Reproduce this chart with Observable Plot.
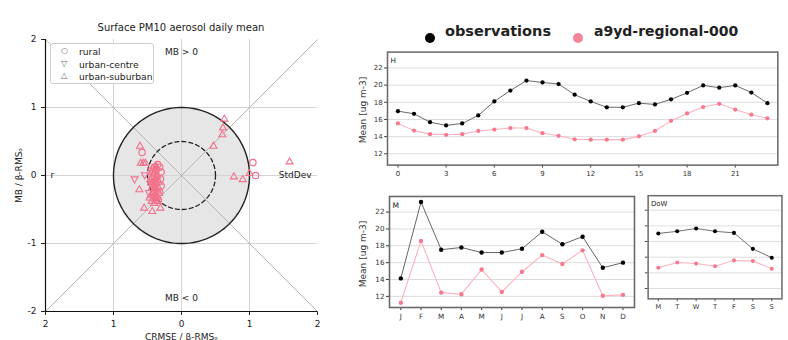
<!DOCTYPE html>
<html><head><meta charset="utf-8">
<script src="https://cdn.jsdelivr.net/npm/d3@7"></script>
<script src="https://cdn.jsdelivr.net/npm/@observablehq/plot@0.6"></script>
<style>
html,body{margin:0;padding:0;background:#fff;overflow:hidden;}
#chart{position:relative;width:788px;height:340px;overflow:hidden;font-family:"DejaVu Sans",sans-serif;color:#222;}
.abs{position:absolute;white-space:nowrap;}
.abs svg{overflow:visible;}
.rot{position:absolute;white-space:nowrap;transform:translate(-50%,-50%) rotate(-90deg);}
</style></head><body><div id="chart"></div>
<script>
// ---- Target diagram: station scores by area type (CRMSE, MB) ----
const ruralX = [-0.58, -0.35, 1.05, 1.09, -0.32, -0.30, -0.31, -0.30, -0.32, -0.40, -0.34, -0.36];
const ruralY = [0.34, 0.16, 0.19, 0.00, 0.12, 0.05, -0.05, -0.15, -0.25, 0.12, -0.36, -0.02];
const centreX = [-0.69, -0.54, -0.45, -0.42, -0.40, -0.48];
const centreY = [-0.05, 0.01, 0.08, -0.15, -0.32, -0.25];
const suburbanX = [-0.61, -0.60, -0.56, -0.53, -0.62, -0.55, -0.43, -0.31, 0.63, 0.61, 0.60, 0.47, 1.59, 0.77, 0.90, 1.00,
  -0.42, -0.38, -0.44, -0.40, -0.36, -0.43, -0.39, -0.35, -0.41, -0.45, -0.37, -0.42, -0.39, -0.34, -0.44, -0.40,
  -0.36, -0.42, -0.38, -0.33, -0.45, -0.40, -0.36, -0.42, -0.38, -0.44, -0.35, -0.40, -0.47, -0.37, -0.46, -0.33];
const suburbanY = [0.43, 0.18, 0.18, 0.18, -0.21, -0.48, -0.53, -0.48, 0.83, 0.70, 0.60, 0.43, 0.20, -0.02, -0.06, 0.03,
  0.10, 0.08, 0.04, 0.02, 0.00, -0.03, -0.05, -0.07, -0.09, -0.11, -0.12, -0.14, -0.17, -0.18, -0.19, -0.21,
  -0.23, -0.25, -0.27, -0.26, -0.29, -0.30, -0.32, -0.34, -0.36, -0.38, -0.38, -0.41, -0.33, 0.13, -0.06, -0.10];
const areaTypes = ["rural", "urban-centre", "urban-suburban"];

// ---- Mean cycles (ug m-3): hour of day, month, day of week ----
const hourTicks = [0, 3, 6, 9, 12, 15, 18, 21];
const hours = [0,1,2,3,4,5,6,7,8,9,10,11,12,13,14,15,16,17,18,19,20,21,22,23];
const hourObs = [16.97,16.66,15.68,15.31,15.53,16.47,18.10,19.37,20.53,20.31,20.13,18.88,18.10,17.42,17.42,17.90,17.75,18.35,19.10,19.97,19.70,19.97,19.14,17.90];
const hourMod = [15.53,14.70,14.29,14.21,14.29,14.66,14.82,15.00,15.00,14.40,14.10,13.69,13.65,13.65,13.65,14.03,14.66,15.84,16.70,17.45,17.82,17.15,16.55,16.13];
const months = ["J","F","M","A","M","J","J","A","S","O","N","D"];
const monthObs = [14.13,23.19,17.54,17.80,17.20,17.20,17.65,19.67,18.18,19.08,15.40,16.00];
const monthMod = [11.25,18.58,12.45,12.26,15.18,12.52,14.92,16.90,15.85,17.46,12.07,12.18];
const days = ["M","T","W","T","F","S","S"];
const dowObs = [19.03,19.30,19.67,19.30,19.10,17.06,15.93];
const dowMod = [14.65,15.33,15.18,14.84,15.59,15.52,14.51];
const meanTicks = [12, 14, 16, 18, 20, 22];
const seriesNames = ["observations", "a9yd-regional-000"];
const meanLabel = "Mean [ug m-3]";

const pink = "#f4718b";
const chart = document.getElementById("chart");

function place(node, left, top) {
  const d = document.createElement("div");
  d.className = "abs";
  d.style.left = left + "px";
  d.style.top = top + "px";
  d.appendChild(node);
  chart.appendChild(d);
  return d;
}
function label(html, left, top, css, cls) {
  const d = document.createElement("div");
  d.className = cls || "abs";
  d.style.left = left + "px";
  d.style.top = top + "px";
  d.style.cssText += css || "";
  d.innerHTML = html;
  chart.appendChild(d);
  return d;
}

// unit and half-unit reference circles
const ring = (rad) => d3.range(0, 361, 2).map(a => ({x: rad * Math.cos(a * Math.PI / 180), y: rad * Math.sin(a * Math.PI / 180)}));
const zip = (xs, ys) => xs.map((x, i) => ({x, y: ys[i]}));
const diagonals = [{x1: -2, y1: 2, x2: 2, y2: -2}, {x1: -2, y1: -2, x2: 2, y2: 2}];

const target = Plot.plot({
  width: 330, height: 340,
  marginLeft: 45, marginRight: 13, marginTop: 39, marginBottom: 29,
  style: {fontFamily: "DejaVu Sans", fontSize: "9px", color: "#222", background: "transparent"},
  x: {domain: [-2, 2], ticks: [-2, -1, 0, 1, 2], tickFormat: d => String(Math.abs(d)), tickSize: 4,
      label: "CRMSE / β-RMSₒ", labelAnchor: "center", labelArrow: "none", labelOffset: 28},
  y: {domain: [-2, 2], ticks: [-2, -1, 0, 1, 2], tickFormat: d => String(d), tickSize: 4,
      label: "MB / β-RMSₒ", labelAnchor: "center", labelArrow: "none", labelOffset: 30},
  marks: [
    Plot.line(ring(1), {x: "x", y: "y", fill: "#e6e6e6", stroke: "none"}),
    Plot.gridX([-1, 0, 1], {stroke: "#d4d4d4", strokeOpacity: 1}),
    Plot.gridY([-1, 0, 1], {stroke: "#d4d4d4", strokeOpacity: 1}),
    Plot.link(diagonals, {x1: "x1", y1: "y1", x2: "x2", y2: "y2", stroke: "#b5b5b5", strokeWidth: 1}),
    Plot.line(ring(1), {x: "x", y: "y", stroke: "#222", strokeWidth: 1.4}),
    Plot.line(ring(0.5), {x: "x", y: "y", stroke: "#222", strokeWidth: 1.3, strokeDasharray: "4,3"}),
    Plot.ruleX([-2], {stroke: "#111", strokeWidth: 1.2}),
    Plot.ruleY([-2], {stroke: "#111", strokeWidth: 1.2}),
    Plot.dot(zip(suburbanX, suburbanY), {x: "x", y: "y", symbol: "triangle", r: 2.6, stroke: pink, strokeWidth: 1.1, fill: "none"}),
    Plot.dot(zip(centreX, centreY), {x: "x", y: "y", symbol: "triangle", rotate: 180, r: 2.6, stroke: pink, strokeWidth: 1.1, fill: "none"}),
    Plot.dot(zip(ruralX, ruralY), {x: "x", y: "y", symbol: "circle", r: 3.2, stroke: pink, strokeWidth: 1.2, fill: "none"}),
    Plot.text(["MB > 0"], {frameAnchor: "top", dy: 9, fill: "#222"}),
    Plot.text(["MB < 0"], {frameAnchor: "bottom", dy: -11, fill: "#222"}),
    Plot.text(["r"], {frameAnchor: "left", dx: 5, textAnchor: "start", fill: "#222"}),
    Plot.text(["StdDev"], {frameAnchor: "right", dx: -6, textAnchor: "end", fill: "#222"})
  ]
});
place(target, 0, 0);

label("Surface PM10 aerosol daily mean", 0, 22, "width:362px;text-align:center;font-size:10px;");

// legend for area types
const lg = label("", 50, 43, "width:102px;height:39px;border:1px solid #cfcfcf;border-radius:3px;background:rgba(255,255,255,0.85);font-size:9.2px;");
const glyphs = ["○", "▽", "△"];
areaTypes.forEach((t, i) => {
  const row = document.createElement("div");
  row.style.cssText = `position:absolute;left:0;top:${2 + i * 12.5}px;`;
  row.innerHTML = `<span style="position:absolute;left:10px;color:#666;font-size:8px;">${glyphs[i]}</span><span style="position:absolute;left:28px;">${t}</span>`;
  lg.appendChild(row);
});

// ---- series legend ----
label(`<span style="display:inline-block;width:10px;height:10px;border-radius:50%;background:#000;vertical-align:middle;"></span>`, 425, 27);
label(seriesNames[0], 445, 23, "font-size:14.5px;font-weight:bold;");
label(`<span style="display:inline-block;width:10px;height:10px;border-radius:50%;background:#f7859a;vertical-align:middle;"></span>`, 573, 27);
label(seriesNames[1], 594, 23, "font-size:14px;font-weight:bold;");

function panel({cats, obs, mod, tag, xdom, ticks, tickFormat, width, height, ml, mr, mt, mb, yLabels}) {
  const rows = cats.map((c, i) => ({i, obs: obs[i], mod: mod[i]}));
  return Plot.plot({
    width, height, marginLeft: ml, marginRight: mr, marginTop: mt, marginBottom: mb,
    style: {fontFamily: "DejaVu Sans", fontSize: "7.2px", color: "#333", background: "transparent"},
    x: {domain: xdom, ticks, tickFormat, tickSize: 3, tickPadding: 3, label: null},
    y: {domain: [10.68, 23.85], ticks: meanTicks, tickSize: 3, tickPadding: 2,
        tickFormat: yLabels ? (d => String(d)) : () => "", label: null},
    marks: [
      Plot.gridY(meanTicks, {stroke: "#d8d8d8", strokeOpacity: 1, strokeWidth: 0.9}),
      Plot.line(rows, {x: "i", y: "mod", stroke: "#ffb1be", strokeWidth: 1.1}),
      Plot.dot(rows, {x: "i", y: "mod", fill: "#f7798f", r: 2.2}),
      Plot.line(rows, {x: "i", y: "obs", stroke: "#666", strokeWidth: 1}),
      Plot.dot(rows, {x: "i", y: "obs", fill: "#000", r: 2.2}),
      Plot.frame({stroke: "#6a6a6a", strokeWidth: 1.6}),
      Plot.text([tag], {frameAnchor: "top-left", dx: 3, dy: 6, fill: "#222", fontSize: 7.5})
    ]
  });
}

// hour of day
place(panel({cats: hours, obs: hourObs, mod: hourMod, tag: "H", xdom: [-0.65, 23.65], ticks: hourTicks,
  tickFormat: d => String(d), width: 474, height: 149, ml: 59, mr: 11, mt: 12, mb: 20, yLabels: true}), 330, 40);
label(meanLabel, 363, 110, "font-size:9px;color:#333;", "rot");

// month
place(panel({cats: months, obs: monthObs, mod: monthMod, tag: "M", xdom: [-0.56, 11.57], ticks: d3.range(12),
  tickFormat: i => months[i], width: 315, height: 142, ml: 59, mr: 11, mt: 11, mb: 20, yLabels: true}), 330, 185);
label(meanLabel, 363, 254, "font-size:9px;color:#333;", "rot");

// day of week
place(panel({cats: days, obs: dowObs, mod: dowMod, tag: "DoW", xdom: [-0.54, 6.54], ticks: d3.range(7),
  tickFormat: i => days[i], width: 170, height: 142, ml: 19, mr: 7, mt: 11, mb: 20, yLabels: false}), 630, 185);
</script></body></html>
